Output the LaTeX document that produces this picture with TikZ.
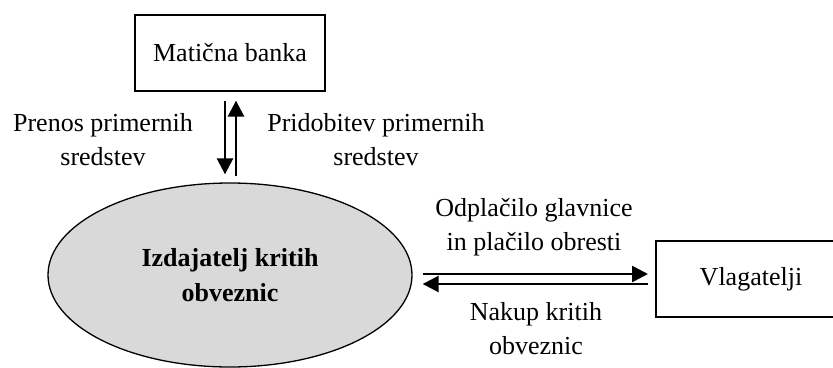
\documentclass[tikz,border=0pt]{standalone}
\usepackage{fontspec}
\setmainfont{Liberation Serif}
\newfontfamily\tnr{Liberation Serif}
\usetikzlibrary{shapes.geometric,arrows.meta}
\definecolor{ellgray}{HTML}{D9D9D9}
\tikzset{
  box/.style={draw=black, line width=1.3pt, inner sep=0pt},
  txt/.style={font=\tnr\fontsize{26}{34}\selectfont},
  lbl/.style={txt, align=center, inner sep=0pt},
  arr/.style={line width=2.6pt, -{Triangle[length=16pt,width=16pt]}},
}
\begin{document}
\begin{tikzpicture}[x=1pt,y=-1pt]
\useasboundingbox (0,0) rectangle (833,367);
\clip (0,0) rectangle (833,367);
\node[box, txt, minimum width=190pt, minimum height=76pt] (bank) at (230,53) {Matična banka};
\node[draw=black, line width=1.3pt, fill=ellgray, ellipse, minimum width=364pt, minimum height=184pt, inner sep=0pt,
      align=center, font=\tnr\fontsize{26}{35}\selectfont\bfseries] (iz) at (230,275) {Izdajatelj kritih\\obveznic};
\node[txt, inner sep=0pt] (vl) at (751,279) {Vlagatelji};
\draw[box] (656,241) rectangle (860,317);
% vertical arrows
\draw[arr] ([xshift=-5pt,yshift=-9pt]bank.south) -- ([xshift=-5pt,yshift=8pt]iz.north);
\draw[arr] ([xshift=6pt,yshift=6pt]iz.north) -- ([xshift=6pt,yshift=-9pt]bank.south);
% horizontal arrows
\coordinate (vlw) at (656,279);
\draw[arr] ([xshift=10pt,yshift=1pt]iz.east) -- ([xshift=-8pt,yshift=5pt]vlw);
\draw[arr] ([xshift=-8pt,yshift=-5pt]vlw) -- ([xshift=10pt,yshift=-9pt]iz.east);
% labels
\node[lbl] (l1) at (103,140) {Prenos primernih\\sredstev};
\node[lbl] (l2) at (376,140) {Pridobitev primernih\\sredstev};
\node[lbl] (l3) at (534,227) {Odplačilo glavnice\\in plačilo obresti};
\node[lbl] (l4) at (536,329) {Nakup kritih\\obveznic};
\end{tikzpicture}
\end{document}
